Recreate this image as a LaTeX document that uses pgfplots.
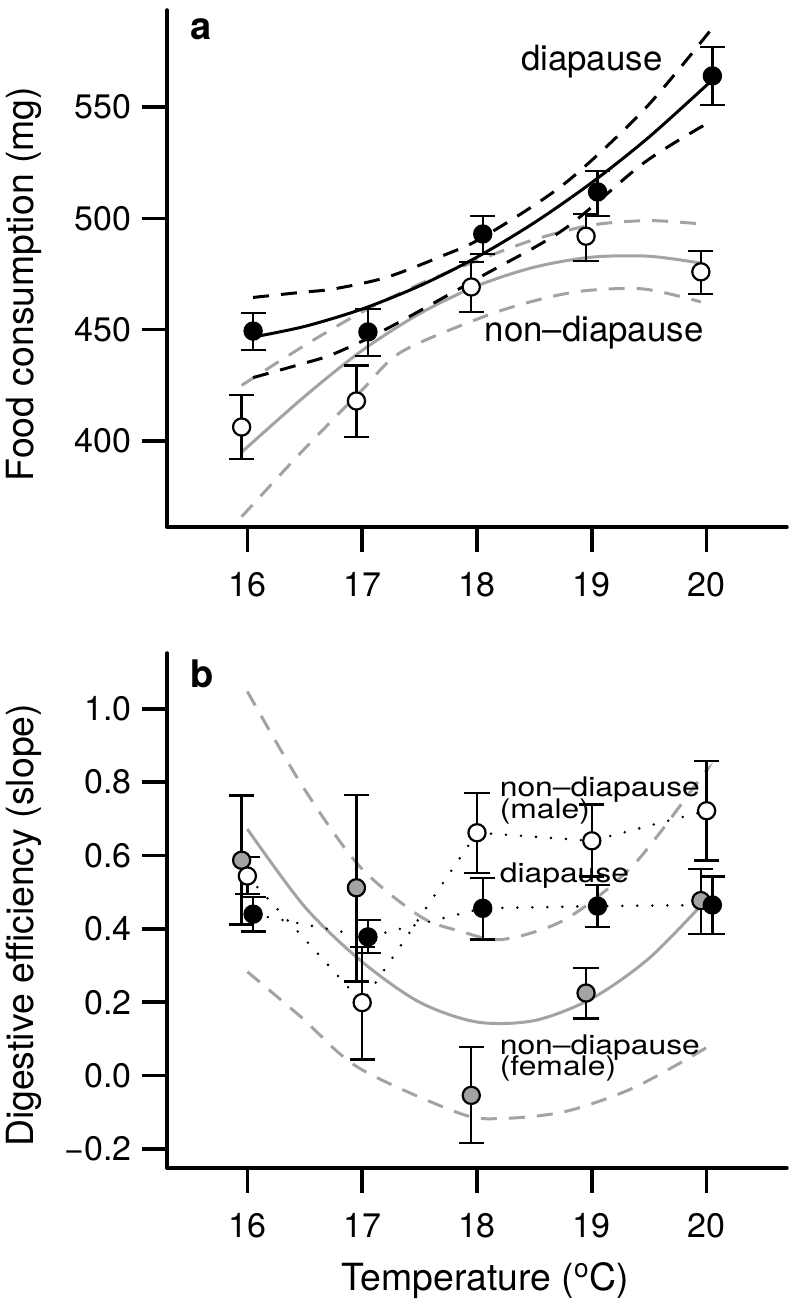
\documentclass[border=0pt]{standalone}
\usepackage{fontspec}
\setmainfont{TeX Gyre Heros}
\usepackage{graphicx}
\usepackage{pgfplots}
\pgfplotsset{compat=1.18}
\usepackage{pgfplotstable}
\definecolor{rgray}{RGB}{163,163,163}

\pgfplotstableread{
x y ep em
16.05 449.4 8.1 8.5
17.05 449.0 10.3 10.8
18.05 493.0 8.0 9.0
19.05 511.9 9.4 10.9
20.05 564.0 13.0 13.0
}\topdia
\pgfplotstableread{
x y ep em
15.95 406.3 14.4 14.4
16.95 418.0 16.0 16.2
17.95 469.2 11.2 11.2
18.95 492.0 10.0 11.1
19.95 476.0 9.4 10.0
}\topnon
\pgfplotstableread{
x y ep em
16.05 0.440 0.047 0.047
17.05 0.378 0.046 0.044
18.05 0.456 0.082 0.085
19.05 0.462 0.058 0.057
20.05 0.465 0.078 0.079
}\botdia
\pgfplotstableread{
x y ep em
16.00 0.544 0.052 0.049
17.00 0.199 0.152 0.155
18.00 0.662 0.108 0.109
19.00 0.640 0.099 0.097
20.00 0.722 0.136 0.136
}\botmale
\pgfplotstableread{
x y ep em
15.95 0.587 0.177 0.175
16.95 0.512 0.253 0.256
17.95 -0.054 0.132 0.130
18.95 0.225 0.069 0.069
19.95 0.477 0.086 0.091
}\botfem

\pgfplotsset{
  rstyle/.style={
    scale only axis, width=310pt,
    axis lines=left,
    axis line style={-, line width=1.75pt, line cap=round},
    xmin=15.3, xmax=20.7,
    tick align=outside, major tick length=12.5pt,
    tick style={line width=1.75pt, black},
    xtick={16,17,18,19,20}, xticklabels={16,17,18,19,20},
    ticklabel style={font=\fontsize{17}{20}\selectfont},
    yticklabel style={anchor=east, inner sep=0pt, xshift=-5pt},
    xticklabel style={anchor=north, inner sep=0pt, yshift=-10pt},
    every axis y label/.style={rotate=90, anchor=center, font=\fontsize{18.7}{22}\selectfont},
    every axis x label/.style={anchor=base, font=\fontsize{18.7}{22}\selectfont},
    clip=false,
  },
  pts/.style={only marks, mark=*, mark size=4.3pt,
    mark options={draw=black, line width=1.1pt, fill=#1},
    error bars/.cd, y dir=both, y explicit,
    error bar style={line width=1.2pt, black},
    error mark options={rotate=90, line width=1.2pt, mark size=6.3pt, black}},
  fitline/.style={smooth, line width=1.5pt, #1},
  ciline/.style={smooth, line width=1.5pt, dash pattern=on 8pt off 6pt, #1},
  dotline/.style={line width=1.4pt, dash pattern=on 0pt off 7.5pt, line cap=round, black},
}

\begin{document}
\begin{tikzpicture}
\useasboundingbox (0,0) rectangle (395pt,651.5pt);

% ---------- panel a ----------
\begin{axis}[rstyle,
  at={(83.5pt,388pt)}, anchor=south west, height=258.5pt,
  ymin=361.4, ymax=593.6,
  ytick={400,450,500,550}, yticklabels={400,450,500,550},
  ylabel={Food consumption (mg)},
  ylabel style={at={(axis description cs:-0.2315,0.47)}},
]
% non-diapause fit and CI (grey)
\addplot[ciline=rgray] coordinates {(15.95,425) (16.5,443) (17,458) (17.5,470.5) (18,481) (18.5,490.5) (19,497) (19.5,499) (19.95,497.5)};
\addplot[ciline=rgray] coordinates {(15.95,366) (16.47,395) (17,423) (17.34,440) (18.05,455.7) (18.5,463) (18.92,467.4) (19.45,468.3) (19.95,462.5)};
\addplot[fitline=rgray] coordinates {(15.95,395) (16.5,420.1) (17,440.7) (17.5,457.2) (18,469.7) (18.5,478.1) (19,482.6) (19.5,483.0) (19.95,479.9)};
% diapause fit and CI (black)
\addplot[ciline=black] coordinates {(16.05,464.5) (16.47,466.8) (16.75,468.3) (17.21,473.5) (17.7,483.2) (18.05,491.5) (18.76,515.5) (19.46,549.1) (20.05,585.5)};
\addplot[ciline=black] coordinates {(16.05,428.5) (16.47,434.6) (16.75,439.1) (17.21,450.3) (18.05,474.3) (18.76,495.2) (19.46,525.2) (20.05,544)};
\addplot[fitline=black] coordinates {(16.05,446.7) (16.5,451.5) (17,459.3) (17.5,469.7) (18,482.6) (18.5,498.1) (19,516.1) (19.5,536.6) (20.05,562.2)};
% points
\addplot[pts=white] table[x=x, y=y, y error plus=ep, y error minus=em] {\topnon};
\addplot[pts=black] table[x=x, y=y, y error plus=ep, y error minus=em] {\topdia};
\node[anchor=base, font=\fontsize{17.4}{20}\selectfont, inner sep=0pt] at (axis cs:19.0,566.2) {diapause};
\node[anchor=base, font=\fontsize{17.4}{20}\selectfont, inner sep=0pt] at (axis cs:19.02,444.9) {non\textendash diapause};
\node[anchor=center, font=\fontsize{19}{22}\selectfont\bfseries, inner sep=0pt] at (axis cs:15.596,585.1) {a};
\end{axis}

% ---------- panel b ----------
\begin{axis}[rstyle,
  at={(83.5pt,67.5pt)}, anchor=south west, height=257.5pt,
  ymin=-0.252, ymax=1.152,
  ytick={-0.2,0,0.2,0.4,0.6,0.8,1.0},
  yticklabels={−0.2,0.0,0.2,0.4,0.6,0.8,1.0},
  ylabel={Digestive efficiency (slope)},
  ylabel style={at={(axis description cs:-0.2315,0.471)}},
  xlabel={Temperature (\textsuperscript{o}C)},
  xlabel style={at={(axis description cs:0.513,-0.237)}},
]
\addplot[ciline=rgray] coordinates {(16.0,1.047) (16.47,0.794) (16.97,0.573) (17.5,0.435) (17.85,0.394) (18.22,0.371) (18.77,0.426) (19.36,0.573) (19.95,0.812) (20.0,0.83)};
\addplot[ciline=rgray] coordinates {(16.0,0.283) (16.47,0.159) (16.97,0.021) (17.85,-0.103) (18.22,-0.117) (18.77,-0.098) (19.36,-0.034) (19.95,0.067) (20.0,0.08)};
\addplot[fitline=rgray] coordinates {(16.0,0.672) (16.5,0.46) (17,0.31) (17.5,0.2) (18,0.146) (18.5,0.15) (19,0.21) (19.5,0.32) (20.0,0.48)};
\addplot[dotline] table[x=x, y=y] {\botdia};
\addplot[dotline] table[x=x, y=y] {\botmale};
\addplot[pts=rgray] table[x=x, y=y, y error plus=ep, y error minus=em] {\botfem};
\addplot[pts=white] table[x=x, y=y, y error plus=ep, y error minus=em] {\botmale};
\addplot[pts=black] table[x=x, y=y, y error plus=ep, y error minus=em] {\botdia};
\node[anchor=base west, font=\fontsize{13.5}{10}\selectfont, inner sep=0pt] at (axis cs:18.195,0.762) {\scalebox{1.18}[1]{non\textendash diapause}};
\node[anchor=base west, font=\fontsize{13.5}{10}\selectfont, inner sep=0pt] at (axis cs:18.195,0.702) {\scalebox{1.18}[1]{(male)}};
\node[anchor=base west, font=\fontsize{13.5}{10}\selectfont, inner sep=0pt] at (axis cs:18.195,0.527) {\scalebox{1.18}[1]{diapause}};
\node[anchor=base west, font=\fontsize{13.5}{10}\selectfont, inner sep=0pt] at (axis cs:18.195,0.058) {\scalebox{1.18}[1]{non\textendash diapause}};
\node[anchor=base west, font=\fontsize{13.5}{10}\selectfont, inner sep=0pt] at (axis cs:18.195,0.001) {\scalebox{1.18}[1]{(female)}};
\node[anchor=center, font=\fontsize{19}{22}\selectfont\bfseries, inner sep=0pt] at (axis cs:15.605,1.094) {b};
\end{axis}
\end{tikzpicture}
\end{document}
